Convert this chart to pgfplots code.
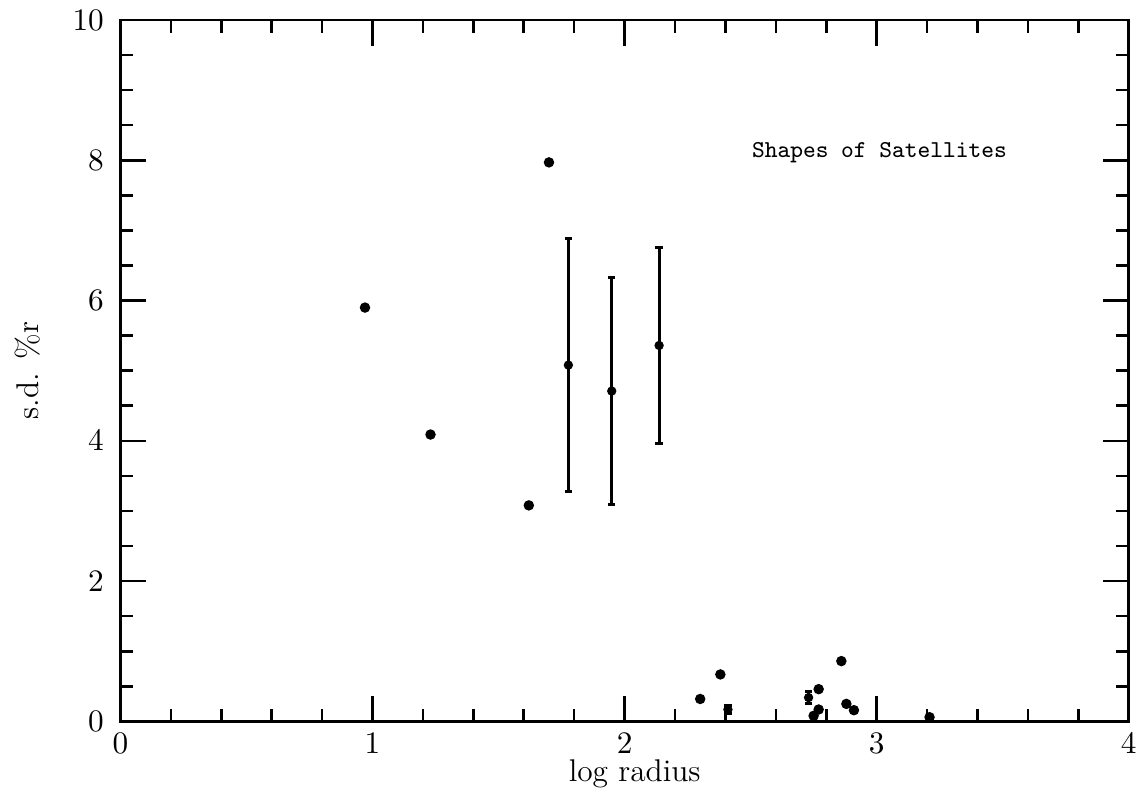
\documentclass[border=0pt]{standalone}
\usepackage{pgfplots}
\pgfplotsset{compat=1.18}
\begin{document}
\begin{tikzpicture}
\begin{axis}[
    name=ax,
    scale only axis,
    width=353pt, height=245.6pt,
    xmin=0, xmax=4, ymin=0, ymax=10,
    xtick={0,1,2,3,4}, ytick={0,2,4,6,8,10},
    minor x tick num=4, minor y tick num=3,
    tick align=inside,
    major tick length=9pt, minor tick length=4.5pt,
    every tick/.style={black, line width=0.9pt},
    axis line style={line width=1pt},
    every axis/.append style={line width=1pt},
    tick label style={font=\fontsize{11}{13}\selectfont},
    label style={font=\fontsize{11}{13}\selectfont},
    xticklabel style={yshift=-0.5pt},
    yticklabel style={xshift=-2pt},
    xlabel={log radius},
    ylabel={s.d. \%r},
    xlabel style={at={(axis description cs:0.51,-0.086)}, anchor=base},
    ylabel style={at={(axis description cs:-0.092,0.5)}, anchor=center},
    clip=false,
]
% single points
\addplot[only marks, mark=*, mark size=1.3pt, black] coordinates {
    (0.97,5.90) (1.23,4.09) (1.62,3.08) (1.70,7.97)
    (2.30,0.32) (2.38,0.67) (2.77,0.46) (2.75,0.08) (2.77,0.17)
    (2.86,0.86) (2.88,0.25) (2.91,0.16) (3.21,0.06)
};
% points with error bars
\addplot[only marks, mark=*, mark size=1.1pt, black,
    error bars/.cd, y dir=both, y explicit,
    error bar style={line width=1.1pt},
    error mark options={rotate=90, mark size=1.3pt, line width=1pt}]
    coordinates {
    (1.777,5.08) +- (0,1.80)
    (1.949,4.71) +- (0,1.62)
    (2.137,5.36) +- (0,1.40)
    (2.41,0.17) +- (0,0.06)
    (2.73,0.34) +- (0,0.09)
};
\node[anchor=west, font=\fontsize{8.5}{10}\selectfont\ttfamily, inner sep=0pt]
    at (axis cs:2.50,8.11) {Shapes of Satellites};
\end{axis}
\path[use as bounding box] ([xshift=-42.2pt,yshift=-24.8pt]ax.south west)
    rectangle ([xshift=4.5pt,yshift=7pt]ax.north east);
\end{tikzpicture}
\end{document}
